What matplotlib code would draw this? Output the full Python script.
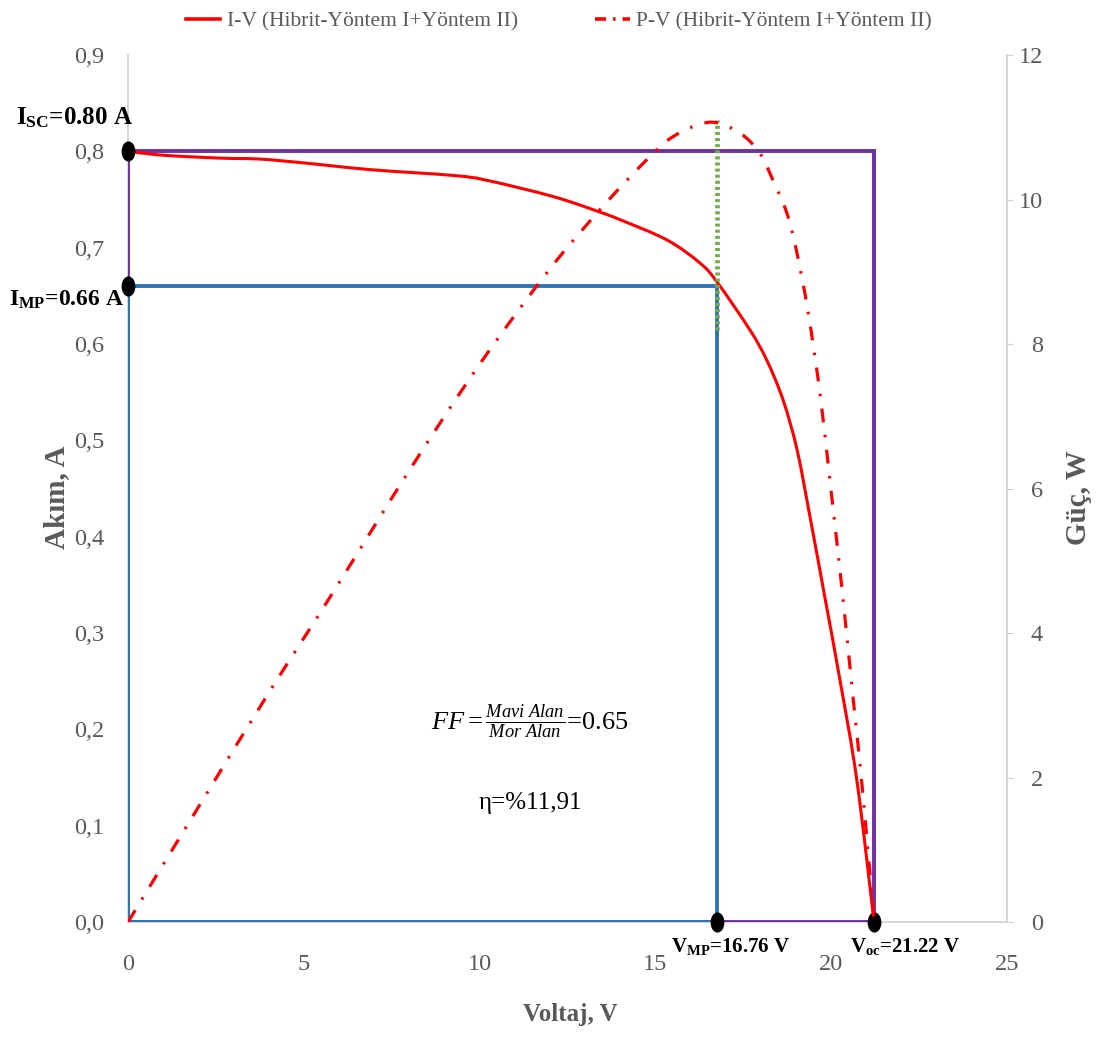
import matplotlib
matplotlib.use("Agg")
import matplotlib.pyplot as plt
from matplotlib.path import Path
from matplotlib.patches import PathPatch
from matplotlib.transforms import Affine2D
from matplotlib.lines import Line2D

plt.rcParams['font.family'] = ['Liberation Serif', 'DejaVu Serif']
plt.rcParams['mathtext.fontset'] = 'custom'
plt.rcParams['mathtext.rm'] = 'Liberation Serif'
plt.rcParams['mathtext.it'] = 'Liberation Serif:italic'
plt.rcParams['mathtext.bf'] = 'Liberation Serif:bold'
plt.rcParams['lines.scale_dashes'] = False

# ---- data ----
iv_voltage = [0.0, 1.0, 2.6, 3.75, 5.0, 6.9, 9.25, 10.2, 12.1, 13.42, 14.0, 15.33,
              16.27, 16.76, 17.69, 18.17, 18.63, 19.03, 19.4, 19.82, 20.25, 20.73, 21.22]
iv_current = [0.800, 0.796, 0.793, 0.792, 0.788, 0.781, 0.775, 0.770, 0.753, 0.737, 0.729, 0.708,
              0.684, 0.664, 0.6145, 0.583, 0.542, 0.490, 0.420, 0.337, 0.251, 0.147, 0.0]

pv_voltage = [0.0, 2.0, 4.0, 5.75, 8.0, 10.0, 12.0, 13.5, 14.65, 15.5, 16.55, 17.4, 17.97,
              18.34, 18.74, 19.03, 19.34, 19.68, 19.97, 20.3, 20.62, 20.9, 21.22]
pv_power = [0.0, 1.59, 3.17, 4.50, 6.25, 7.72, 9.04, 9.90, 10.50, 10.87, 11.07, 10.92, 10.64,
            10.27, 9.81, 9.25, 8.45, 7.32, 6.08, 4.64, 3.11, 1.78, 0.0]

v_mp, i_mp = 16.76, 0.66
v_oc, i_sc = 21.22, 0.80
green_power = [8.2, 11.1]

x_ticks = [0, 5, 10, 15, 20, 25]
y_ticks = [0.0, 0.1, 0.2, 0.3, 0.4, 0.5, 0.6, 0.7, 0.8, 0.9]
y2_ticks = [0, 2, 4, 6, 8, 10, 12]

gray = '#595959'
spine_c = '#D0D0D0'
purple = '#7030A0'
blue = '#2E75B6'
red = '#FF0000'
green = '#70AD47'


def smooth_path(xs, ys):
    """Excel-like smoothed line: cubic Bezier segments through the data points."""
    pts = list(zip(xs, ys))
    n = len(pts)
    verts = [pts[0]]
    codes = [Path.MOVETO]
    for i in range(n - 1):
        p0 = pts[i - 1] if i > 0 else pts[i]
        p1 = pts[i]
        p2 = pts[i + 1]
        p3 = pts[i + 2] if i + 2 < n else pts[i + 1]
        c1 = (p1[0] + (p2[0] - p0[0]) / 6.0, p1[1] + (p2[1] - p0[1]) / 6.0)
        c2 = (p2[0] - (p3[0] - p1[0]) / 6.0, p2[1] - (p3[1] - p1[1]) / 6.0)
        verts += [c1, c2, p2]
        codes += [Path.CURVE4, Path.CURVE4, Path.CURVE4]
    return Path(verts, codes)


fig = plt.figure(figsize=(10.96, 10.46), dpi=100)
ax = fig.add_axes([0.1168, 0.1185, 0.802, 0.8289])
ax2 = ax.twinx()

# rectangles
ax.plot([0, 0, v_oc, v_oc, 0], [0, i_sc, i_sc, 0, 0], color=purple, lw=2.8, zorder=3,
        solid_joinstyle='miter')
ax.plot([0, 0, v_mp, v_mp, 0], [0, i_mp, i_mp, 0, 0], color=blue, lw=2.8, zorder=4,
        solid_joinstyle='miter')

# I-V curve
ax.add_patch(PathPatch(smooth_path(iv_voltage, iv_current), fill=False, edgecolor=red,
                       lw=2.2, zorder=5, transform=ax.transData))
# P-V curve
pv_dash = (0, (10, 9, 1.8, 9))
ax2.add_patch(PathPatch(smooth_path(pv_voltage, pv_power), fill=False, edgecolor=red,
                        lw=2.3, linestyle=pv_dash, zorder=5, transform=ax2.transData))
ax2.plot([v_mp, v_mp], green_power, color=green, lw=3.4, dashes=(2.2, 2.2), zorder=4,
         solid_capstyle='butt', dash_capstyle='butt')

# markers (tall ellipses)
ell = Path.unit_circle().transformed(Affine2D().scale(0.66, 1.0))
ax.plot([0, 0, v_mp, v_oc], [i_sc, i_mp, 0, 0], linestyle='none', marker=ell,
        markersize=13.5, color='black', zorder=7, clip_on=False)

ax.set_xlim(0, 25)
ax.set_ylim(0, 0.9)
ax2.set_ylim(0, 12)
ax.set_xticks(x_ticks)
ax.set_yticks(y_ticks)
ax2.set_yticks(y2_ticks)
ax.set_yticklabels([f"{v:.1f}".replace('.', ',') for v in y_ticks])
ax.set_xticklabels([str(v) for v in x_ticks])
ax2.set_yticklabels([str(v) for v in y2_ticks], ha='right')

for a in (ax, ax2):
    a.spines['top'].set_visible(False)
    for s in ('left', 'right', 'bottom'):
        a.spines[s].set_color(spine_c)
        a.spines[s].set_linewidth(1.2)
ax.spines['right'].set_visible(False)
ax2.spines['left'].set_visible(False)
ax2.spines['bottom'].set_visible(False)

ax.tick_params(axis='y', length=0, pad=17, labelsize=17.5, labelcolor=gray)
ax.tick_params(axis='x', length=0, pad=23, labelsize=17.5, labelcolor=gray)
ax2.tick_params(axis='y', length=4, color=spine_c, pad=22, labelsize=17.5, labelcolor=gray)

ax.set_ylabel('Akım, A', fontsize=21, fontweight='bold', color=gray)
ax.yaxis.set_label_coords(-0.066, 0.49)
ax2.set_ylabel('Güç, W', fontsize=21, fontweight='bold', color=gray)
ax2.yaxis.set_label_coords(1.066, 0.49)
ax.set_xlabel('Voltaj, V', fontsize=18, fontweight='bold', color=gray)
ax.xaxis.set_label_coords(0.503, -0.0934)

# annotations
ann = dict(textcoords='offset pixels', va='center', fontweight='bold',
           color='black', ha='left', annotation_clip=False)
ax.annotate(r'I$_{\mathbf{SC}}$=0.80 A', xy=(0, i_sc), xytext=(-112, 34), fontsize=18, **ann)
ax.annotate(r'I$_{\mathbf{MP}}$=0.66 A', xy=(0, i_mp), xytext=(-119, -14), fontsize=17, **ann)
ax.annotate(r'V$_{\mathbf{MP}}$=16.76 V', xy=(v_mp, 0), xytext=(-46, -24), fontsize=15, **ann)
ax.annotate(r'V$_{\mathbf{oc}}$=21.22 V', xy=(v_oc, 0), xytext=(-24, -24), fontsize=15, **ann)

ax.text(11.43, 0.2076, r'$\mathit{FF} = \frac{\mathit{Mavi\ Alan}}{\mathit{Mor\ Alan}}$=0.65',
        ha='center', va='center', fontsize=19, color='black')
ax.text(11.43, 0.1235, 'η=%11,91', ha='center', va='center', fontsize=18, color='black')

h1 = Line2D([], [], color=red, lw=2.6)
h2 = Line2D([], [], color=red, lw=2.6, linestyle=(0, (8, 5, 1.8, 5)))
fig.legend(handles=[h1, h2],
           labels=['I-V (Hibrit-Yöntem I+Yöntem II)', 'P-V (Hibrit-Yöntem I+Yöntem II)'],
           loc='upper center', bbox_to_anchor=(0.51, 1.008), ncol=2,
           frameon=False, fontsize=15.5, labelcolor=gray, columnspacing=3.6,
           handlelength=1.6, handletextpad=0.3)

fig.savefig('out.png', dpi=100)
